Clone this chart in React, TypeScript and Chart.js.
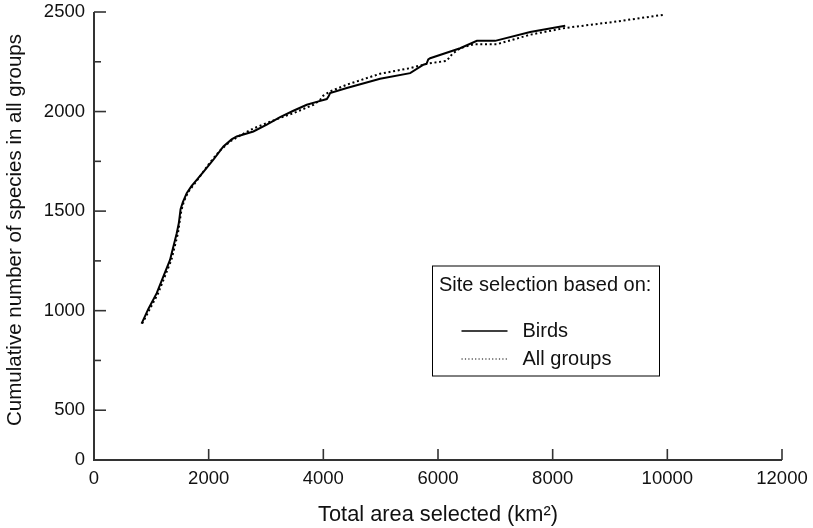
import React, { useEffect, useRef } from "react";
import { Chart, registerables } from "chart.js";

Chart.register(...registerables);

// ---- Data ----
const birdsArea = [830, 950, 1094, 1200, 1326, 1443, 1480, 1510, 1550, 1617, 1700, 1792, 1930, 2082, 2257, 2400, 2490, 2780, 3013, 3246, 3478, 3711, 3900, 4060, 4090, 4118, 4409, 4990, 5514, 5746, 5800, 5830, 5863, 6386, 6678, 6997, 7608, 8219];
const birdsSpecies = [935, 1010, 1088, 1165, 1255, 1389, 1440, 1510, 1545, 1590, 1625, 1657, 1705, 1758, 1825, 1860, 1875, 1900, 1934, 1972, 2004, 2034, 2050, 2063, 2075, 2093, 2118, 2165, 2193, 2235, 2240, 2262, 2268, 2318, 2355, 2355, 2400, 2431];

const allArea = [840, 1120, 1350, 1465, 1490, 1525, 1570, 1640, 1800, 2024, 2200, 2373, 2550, 2780, 3013, 3246, 3478, 3827, 3943, 4000, 4118, 4409, 4990, 5514, 5804, 6153, 6250, 6386, 6619, 7026, 7608, 8219, 9061, 9934];
const allSpecies = [935, 1088, 1255, 1389, 1440, 1505, 1550, 1595, 1655, 1745, 1805, 1850, 1880, 1915, 1942, 1968, 1992, 2034, 2059, 2080, 2101, 2135, 2190, 2218, 2240, 2255, 2290, 2318, 2338, 2338, 2386, 2420, 2450, 2486];

const seriesLabels = ["Birds", "All groups"];
const legendTitle = "Site selection based on:";
const xTitle = "Total area selected (km\u00B2)";
const yTitle = "Cumulative number of species in all groups";

const xMin = 0;
const xMax = 12000;
const xTickValues = [0, 2000, 4000, 6000, 8000, 10000, 12000];
const yMin = 250;
const yMax = 2500;
const yTickValues = [250, 500, 750, 1000, 1250, 1500, 1750, 2000, 2250, 2500];
const yMajorValues = [500, 1000, 1500, 2000, 2500];
const yBottomLabel = "0";

const FONT = "'Liberation Sans', Arial, Helvetica, sans-serif";
const TEXT = "#111111";
const AXIS = "#333333";

const toPoints = (xs: number[], ys: number[]) => xs.map((x, i) => ({ x, y: ys[i] }));

const zeroPad = (scale: any) => {
  scale.paddingTop = 0;
  scale.paddingBottom = 0;
  scale.paddingLeft = 0;
  scale.paddingRight = 0;
};

const axesPlugin = {
  id: "customAxes",
  afterDatasetsDraw(chart: any) {
    const { ctx } = chart;
    const x = chart.scales.x;
    const y = chart.scales.y;
    const x0 = x.getPixelForValue(xMin);
    const x1 = x.getPixelForValue(xMax);
    const y0 = y.getPixelForValue(yMin);
    const y1 = y.getPixelForValue(yMax);
    ctx.save();
    ctx.strokeStyle = AXIS;
    ctx.lineWidth = 2;
    ctx.beginPath();
    ctx.moveTo(x0, y1);
    ctx.lineTo(x0, y0);
    ctx.lineTo(x1, y0);
    ctx.stroke();
    ctx.lineWidth = 1.6;
    yTickValues.forEach((v) => {
      if (v === yMin) return;
      const len = yMajorValues.includes(v) ? 12 : 7;
      const py = y.getPixelForValue(v);
      ctx.beginPath();
      ctx.moveTo(x0, py);
      ctx.lineTo(x0 + len, py);
      ctx.stroke();
    });
    xTickValues.forEach((v) => {
      if (v === xMin) return;
      const px = x.getPixelForValue(v);
      ctx.beginPath();
      ctx.moveTo(px, y0);
      ctx.lineTo(px, y0 - 11);
      ctx.stroke();
    });
    // y-axis title
    ctx.fillStyle = TEXT;
    ctx.font = `20.5px ${FONT}`;
    ctx.textAlign = "center";
    ctx.textBaseline = "middle";
    ctx.translate(15.5, (y0 + y1) / 2 - 6);
    ctx.rotate(-Math.PI / 2);
    ctx.fillText(yTitle, 0, 0);
    ctx.restore();
  },
};

const legendPlugin = {
  id: "boxLegend",
  afterDraw(chart: any) {
    const { ctx, chartArea } = chart;
    const left = chartArea.left + 338.5;
    const top = chartArea.top + 254;
    const w = 227;
    const h = 110;
    ctx.save();
    ctx.strokeStyle = "#000";
    ctx.lineWidth = 1;
    ctx.strokeRect(left, top, w, h);
    ctx.fillStyle = TEXT;
    ctx.font = `20px ${FONT}`;
    ctx.textBaseline = "middle";
    ctx.textAlign = "left";
    ctx.fillText(legendTitle, left + 6.5, top + 19);
    const rows = [top + 65, top + 93];
    chart.data.datasets.forEach((ds: any, i: number) => {
      const yy = rows[i];
      ctx.beginPath();
      ctx.strokeStyle = "#000";
      if (i === 0) {
        ctx.lineWidth = 1.5;
        ctx.setLineDash([]);
      } else {
        ctx.lineWidth = 1.2;
        ctx.setLineDash([1.2, 2.2]);
      }
      ctx.moveTo(left + 29, yy);
      ctx.lineTo(left + 75, yy);
      ctx.stroke();
      ctx.setLineDash([]);
      ctx.fillText(ds.label, left + 90, yy);
    });
    ctx.restore();
  },
};

export default function App() {
  const canvasRef = useRef<HTMLCanvasElement | null>(null);

  useEffect(() => {
    document.body.style.margin = "0";
    const canvas = canvasRef.current;
    if (!canvas) return;
    const chart = new Chart(canvas, {
      type: "line",
      data: {
        datasets: [
          {
            label: seriesLabels[0],
            data: toPoints(birdsArea, birdsSpecies),
            borderColor: "#000",
            borderWidth: 2,
            pointRadius: 0,
            tension: 0,
            fill: false,
          },
          {
            label: seriesLabels[1],
            data: toPoints(allArea, allSpecies),
            borderColor: "#000",
            borderWidth: 2,
            borderDash: [2, 2.7],
            borderCapStyle: "butt",
            pointRadius: 0,
            tension: 0,
            fill: false,
          },
        ],
      },
      options: {
        animation: false,
        responsive: false,
        maintainAspectRatio: false,
        layout: { autoPadding: false, padding: { top: 12, right: 31, bottom: 0, left: 0 } },
        plugins: { legend: { display: false }, tooltip: { enabled: false } },
        scales: {
          x: {
            type: "linear",
            min: xMin,
            max: xMax,
            afterBuildTicks: (scale: any) => {
              scale.ticks = xTickValues.map((value) => ({ value }));
            },
            afterFit: (scale: any) => {
              scale.height = 68;
              zeroPad(scale);
            },
            grid: { display: false, drawTicks: false },
            border: { display: false },
            ticks: {
              autoSkip: false,
              maxRotation: 0,
              padding: 8,
              color: TEXT,
              font: { family: FONT, size: 18.5 },
              callback: (v: any) => String(v),
            },
            title: {
              display: true,
              text: xTitle,
              color: TEXT,
              font: { family: FONT, size: 21.8 },
              padding: { top: 0, bottom: 0 },
            },
          },
          y: {
            type: "linear",
            min: yMin,
            max: yMax,
            afterBuildTicks: (scale: any) => {
              scale.ticks = yTickValues.map((value) => ({ value }));
            },
            afterFit: (scale: any) => {
              scale.width = 94;
              zeroPad(scale);
            },
            grid: { display: false, drawTicks: false },
            border: { display: false },
            ticks: {
              autoSkip: false,
              padding: 9,
              color: TEXT,
              font: { family: FONT, size: 18.5 },
              callback: (v: any) => {
                if (v === yMin) return yBottomLabel;
                return yMajorValues.includes(v) ? String(v) : "";
              },
            },
            title: { display: false, text: yTitle },
          },
        },
      },
      plugins: [axesPlugin, legendPlugin],
    } as any);
    return () => chart.destroy();
  }, []);

  return (
    <div style={{ position: "absolute", left: 0, top: 0, width: 813, height: 528, background: "#fff" }}>
      <canvas ref={canvasRef} width={813} height={528} style={{ display: "block" }} />
    </div>
  );
}
